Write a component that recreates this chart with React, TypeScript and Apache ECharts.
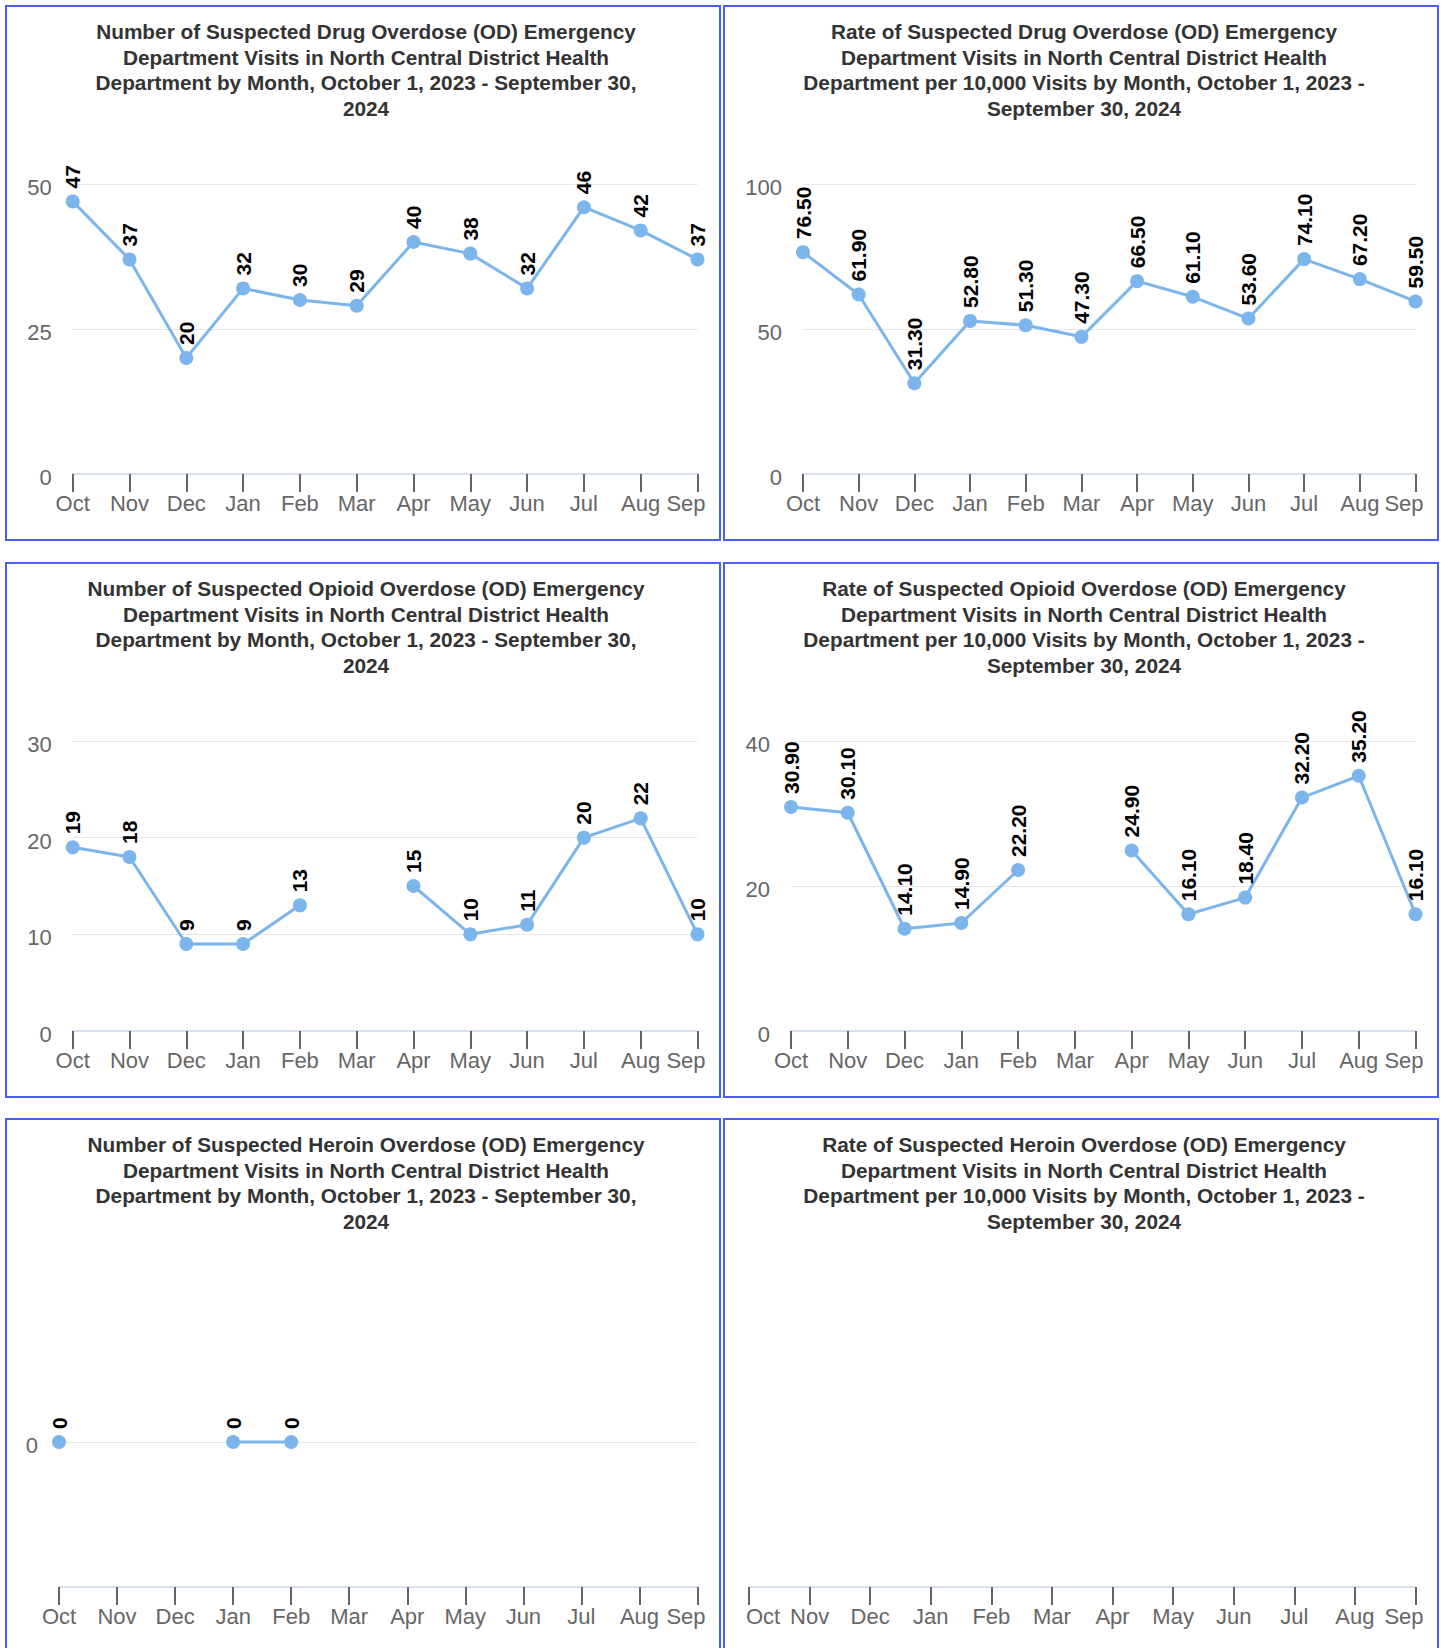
import React, { useEffect, useRef } from "react";
import * as echarts from "echarts";

const months = ["Oct", "Nov", "Dec", "Jan", "Feb", "Mar", "Apr", "May", "Jun", "Jul", "Aug", "Sep"];

const drugCounts = [47, 37, 20, 32, 30, 29, 40, 38, 32, 46, 42, 37];
const drugRates = [76.5, 61.9, 31.3, 52.8, 51.3, 47.3, 66.5, 61.1, 53.6, 74.1, 67.2, 59.5];
const opioidCounts = [19, 18, 9, 9, 13, null, 15, 10, 11, 20, 22, 10];
const opioidRates = [30.9, 30.1, 14.1, 14.9, 22.2, null, 24.9, 16.1, 18.4, 32.2, 35.2, 16.1];
const heroinCounts = [0, null, null, 0, 0, null, null, null, null, null, null, null];
const heroinRates = [null, null, null, null, null, null, null, null, null, null, null, null];

const drugCountAxis = { min: 0, max: 50, interval: 25 };
const drugRateAxis = { min: 0, max: 100, interval: 50 };
const opioidCountAxis = { min: 0, max: 30, interval: 10 };
const opioidRateAxis = { min: 0, max: 40, interval: 20 };
const heroinCountAxis = { min: -1, max: 1, interval: 1 };
const heroinRateAxis = { min: 0, max: 1, interval: 1 };

const countTitle = (drug: string) =>
  `Number of Suspected ${drug} Overdose (OD) Emergency\nDepartment Visits in North Central District Health\nDepartment by Month, October 1, 2023 - September 30,\n2024`;
const rateTitle = (drug: string) =>
  `Rate of Suspected ${drug} Overdose (OD) Emergency\nDepartment Visits in North Central District Health\nDepartment per 10,000 Visits by Month, October 1, 2023 -\nSeptember 30, 2024`;

const FONT = "'Liberation Sans', Arial, Helvetica, sans-serif";
const LINE_COLOR = "#7cb5ec";

type Cfg = {
  title: string;
  data: (number | null)[];
  axis: { min: number; max: number; interval: number };
  decimals: number;
  gridLeft: number;
  kind: "normal" | "zeroOnly" | "none";
  octShift?: boolean;
};

function buildOption(c: Cfg) {
  const labelStyle = { fontSize: 22, color: "#666666", fontFamily: FONT };
  return {
    animation: false,
    title: {
      text: c.title,
      left: 359,
      top: 12,
      padding: 0,
      textAlign: "center",
      textStyle: {
        fontSize: 20.8,
        fontWeight: "bold",
        color: "#333333",
        fontFamily: FONT,
        lineHeight: 25.5,
      },
    },
    grid: { left: c.gridLeft, right: 21.5, top: 177, bottom: 65, containLabel: false },
    xAxis: {
      type: "category",
      data: months,
      boundaryGap: false,
      axisLine: { show: true, onZero: false, lineStyle: { color: "#ccd6eb", width: 1.5 } },
      axisTick: { show: true, length: 18, interval: 0, lineStyle: { color: "#555555", width: 1.8 } },
      axisLabel: {
        interval: 0,
        margin: 18,
        ...labelStyle,
        formatter: (v: string, i: number) => {
          if (i === months.length - 1) return `{sep|${v}}`;
          if (i === 0 && c.octShift) return `{oct|${v}}`;
          return v;
        },
        rich: {
          sep: { ...labelStyle, padding: [0, 23, 0, 0] },
          oct: { ...labelStyle, padding: [0, 0, 0, 28] },
        },
      },
      splitLine: { show: false },
    },
    yAxis: {
      type: "value",
      show: c.kind !== "none",
      min: c.axis.min,
      max: c.axis.max,
      interval: c.axis.interval,
      axisLine: { show: false },
      axisTick: { show: false },
      axisLabel: {
        ...labelStyle,
        margin: 21,
        formatter: (v: number) => {
          if (c.kind === "zeroOnly" && v !== 0) return "";
          return `{y|${v}}`;
        },
        rich: {
          y: { ...labelStyle, padding: [7, 0, 0, 0] },
        },
      },
      splitLine: {
        show: c.kind !== "none",
        showMinLine: false,
        showMaxLine: c.kind === "normal",
        lineStyle: { color: "#e6e6e6", width: 1 },
      },
    },
    series: [
      {
        type: "line",
        data: c.data,
        symbol: "circle",
        symbolSize: 14,
        showSymbol: true,
        showAllSymbol: true,
        connectNulls: false,
        lineStyle: { color: LINE_COLOR, width: 3 },
        itemStyle: { color: LINE_COLOR },
        emphasis: { disabled: true },
        label: {
          show: true,
          position: "top",
          distance: 6,
          rotate: 90,
          align: "left",
          verticalAlign: "middle",
          fontSize: 21,
          fontWeight: "bold",
          color: "#000000",
          fontFamily: FONT,
          formatter: (p: any) => (p.value == null ? "" : Number(p.value).toFixed(c.decimals)),
        },
      },
    ],
  };
}

const configs: Cfg[] = [
  { title: countTitle("Drug"), data: drugCounts, axis: drugCountAxis, decimals: 0, gridLeft: 65.7, kind: "normal" },
  { title: rateTitle("Drug"), data: drugRates, axis: drugRateAxis, decimals: 2, gridLeft: 78, kind: "normal" },
  { title: countTitle("Opioid"), data: opioidCounts, axis: opioidCountAxis, decimals: 0, gridLeft: 65.7, kind: "normal" },
  { title: rateTitle("Opioid"), data: opioidRates, axis: opioidRateAxis, decimals: 2, gridLeft: 66, kind: "normal" },
  { title: countTitle("Heroin"), data: heroinCounts, axis: heroinCountAxis, decimals: 0, gridLeft: 52, kind: "zeroOnly" },
  { title: rateTitle("Heroin"), data: heroinRates, axis: heroinRateAxis, decimals: 2, gridLeft: 24, kind: "none", octShift: true },
];

const colLefts = [5, 723];
const rowTops = [5, 562, 1118];
const PANEL_W = 716;
const PANEL_H = 536;
const BORDER = 2;

export default function App() {
  const refs = useRef<(HTMLDivElement | null)[]>([]);

  useEffect(() => {
    const charts = configs.map((cfg, i) => {
      const el = refs.current[i]!;
      const chart = echarts.init(el, undefined, { renderer: "svg" });
      chart.setOption(buildOption(cfg) as any);
      return chart;
    });
    return () => charts.forEach((ch) => ch.dispose());
  }, []);

  return (
    <div
      style={{
        position: "absolute",
        left: 0,
        top: 0,
        width: 1444,
        height: 1648,
        overflow: "hidden",
        background: "#ffffff",
      }}
    >
      {configs.map((cfg, i) => {
        const col = i % 2;
        const row = Math.floor(i / 2);
        return (
          <div
            key={i}
            style={{
              position: "absolute",
              left: colLefts[col],
              top: rowTops[row],
              width: PANEL_W,
              height: PANEL_H,
              boxSizing: "border-box",
              border: `${BORDER}px solid #4a5ef5`,
              background: "#ffffff",
            }}
          >
            <div
              ref={(el) => {
                refs.current[i] = el;
              }}
              style={{ width: PANEL_W - 2 * BORDER, height: PANEL_H - 2 * BORDER }}
            />
          </div>
        );
      })}
    </div>
  );
}
